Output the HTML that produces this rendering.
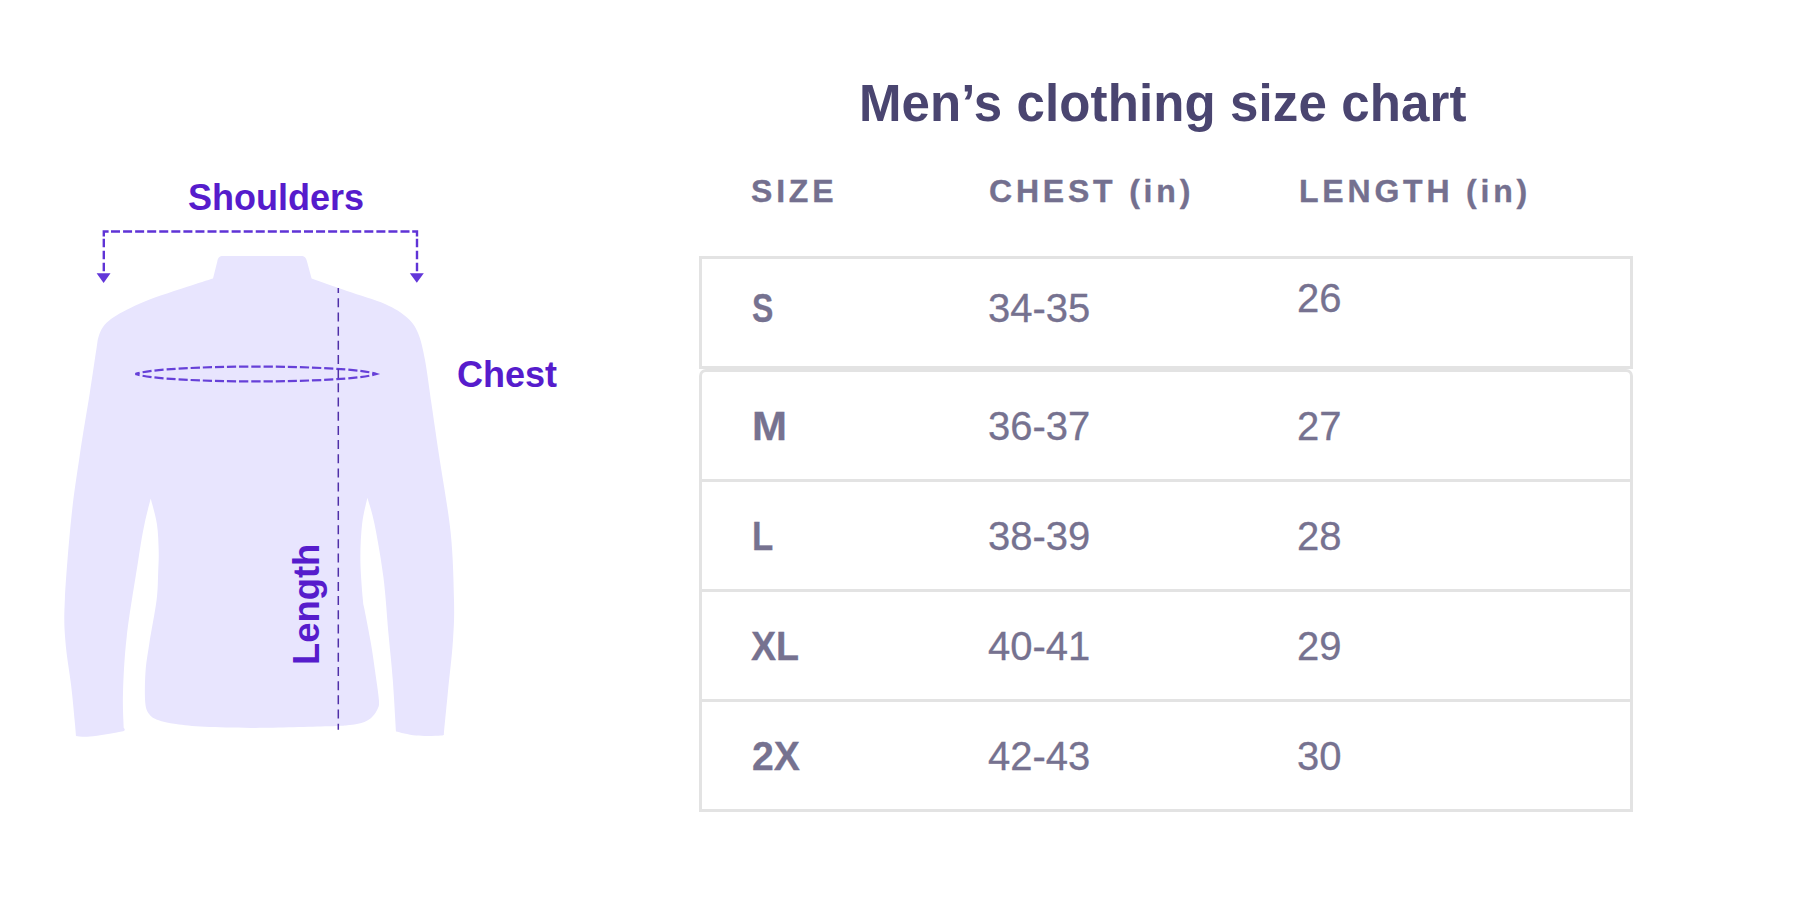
<!DOCTYPE html>
<html><head><meta charset="utf-8">
<style>
html,body{margin:0;padding:0;background:#fff;}
body{width:1800px;height:904px;position:relative;overflow:hidden;font-family:"Liberation Sans",sans-serif;}
.t{position:absolute;white-space:nowrap;line-height:1;}
.title{left:859px;top:78px;font-size:51px;font-weight:bold;color:#4a4570;letter-spacing:0.12px;}
.hd{font-size:32px;font-weight:bold;color:#74708f;letter-spacing:3.8px;-webkit-text-stroke:0.35px #74708f;top:175px;}
.cell{font-size:40px;color:#767290;-webkit-text-stroke:0.3px #767290;}
.sz{font-weight:bold;}
.lbl{font-size:36px;font-weight:bold;color:#561ccc;}
.ln{position:absolute;background:#e3e3e3;}
svg{position:absolute;left:0;top:0;}
</style></head><body>
<svg width="1800" height="904" viewBox="0 0 1800 904">
<path d="M213 278.5 L217.3 261.5 C218 257.5 219.5 256 223 256 L301 256 C304.5 256 306 257.5 307 261.5 L311.6 278.5 C317.5 280.6 334.8 286.8 347.0 291.0 C359.2 295.2 375.0 299.6 385.0 304.0 C395.0 308.4 401.5 312.7 407.0 317.5 C412.5 322.3 415.0 325.9 418.0 333.0 C421.0 340.1 422.8 348.2 425.0 360.0 C427.2 371.8 429.2 388.2 431.5 404.0 C433.8 419.8 435.8 433.5 439.0 455.0 C442.2 476.5 448.2 508.8 450.7 533.0 C453.2 557.2 453.6 582.2 454.0 600.0 C454.4 617.8 454.0 624.5 453.0 640.0 C452.0 655.5 449.3 677.5 447.8 693.0 C446.3 708.5 444.5 726.3 443.9 733.0 C443.4 733.4 445.6 735.2 441.0 735.6 C436.4 736.0 423.5 736.3 416.0 735.6 C408.5 734.9 399.3 732.3 396.0 731.6 C395.5 723.0 394.0 695.9 392.8 680.0 C391.6 664.1 390.3 653.2 388.7 636.0 C387.1 618.8 385.8 595.7 383.4 577.0 C381.0 558.3 377.2 537.2 374.5 524.0 C371.8 510.8 368.6 502.1 367.4 497.7 C366.5 502.1 363.3 513.6 362.1 524.0 C360.9 534.4 360.3 547.5 360.4 560.0 C360.5 572.5 362.1 590.7 362.8 599.0 C363.5 607.3 363.2 602.6 364.6 610.0 C366.0 617.4 369.1 632.9 370.9 643.2 C372.7 653.5 373.9 662.5 375.2 672.0 C376.5 681.5 378.5 693.9 378.9 700.0 C379.3 706.1 378.9 705.8 377.8 708.5 C376.7 711.2 374.7 714.2 372.5 716.5 C370.3 718.8 368.1 720.6 364.4 722.0 C360.6 723.4 356.1 724.3 350.0 725.0 C343.9 725.7 343.6 725.8 327.9 726.3 C312.2 726.8 276.1 727.8 255.6 727.9 C235.1 728.0 218.3 727.4 205.0 726.8 C191.7 726.1 183.8 725.1 176.0 724.0 C168.2 722.9 162.4 721.6 158.0 720.0 C153.6 718.4 151.6 717.3 149.5 714.5 C147.4 711.7 146.0 710.1 145.3 703.0 C144.6 695.9 144.8 682.0 145.5 672.0 C146.2 662.0 147.6 655.0 149.4 643.0 C151.2 631.0 155.1 611.8 156.6 600.0 C158.1 588.2 157.8 580.2 158.2 572.0 C158.5 563.8 158.9 559.0 158.7 551.0 C158.5 543.0 158.2 532.7 156.9 524.0 C155.6 515.3 151.7 502.8 150.7 498.6 C149.7 502.8 146.6 513.8 144.5 524.0 C142.4 534.2 141.2 541.3 138.3 560.0 C135.4 578.7 129.3 613.8 126.8 636.0 C124.2 658.2 123.5 677.7 123.0 693.0 C122.5 708.3 123.6 721.8 123.7 727.6 C123.4 728.3 127.4 730.1 121.7 731.6 C116.0 733.1 97.4 735.9 89.8 736.6 C82.2 737.3 78.3 736.1 76.0 736.0 C75.8 733.3 75.4 728.3 74.6 720.0 C73.8 711.7 72.8 699.3 71.2 686.0 C69.7 672.7 66.3 654.5 65.3 640.0 C64.2 625.5 63.9 619.7 64.9 599.0 C65.9 578.3 69.0 540.0 71.5 516.0 C74.0 492.0 76.8 475.5 79.8 455.0 C82.8 434.5 87.0 410.8 89.8 393.0 C92.6 375.2 95.0 357.8 96.5 348.5 C98.0 339.2 97.4 340.6 98.5 337.0 C99.6 333.4 100.9 330.0 103.0 327.0 C105.1 324.0 107.7 321.5 111.0 319.0 C114.3 316.5 118.2 314.4 123.0 311.8 C127.8 309.2 133.7 306.2 140.0 303.5 C146.3 300.8 152.6 298.4 160.6 295.6 C168.6 292.8 179.3 289.4 188.0 286.5 C196.7 283.6 208.8 279.8 213.0 278.5Z" fill="#e8e5fe"/>
<g fill="none" stroke="#5f33d6" stroke-width="2.4">
<path d="M103.8 236.6 L103.8 231.5 L108.6 231.5" stroke-linejoin="miter"/>
<path d="M412.2 231.5 L417 231.5 L417 236.6" stroke-linejoin="miter"/>
<path d="M111 231.5 L409.5 231.5" stroke-dasharray="9 3.0625"/>
<path d="M103.8 238.8 L103.8 271.3" stroke-dasharray="8.5 3.5"/>
<path d="M417 238.8 L417 271.3" stroke-dasharray="8.5 3.5"/>
</g>
<polygon points="96.6,273.3 110.5,273.3 103.6,283.1" fill="#6236d9"/>
<polygon points="409.8,273.3 423.8,273.3 416.8,282.7" fill="#6236d9"/>
<path d="M135.3 374 C165.3 364.13 346.6 364.13 376.6 374 C346.6 383.87 165.3 383.87 135.3 374" fill="none" stroke="#6640d8" stroke-width="2.2" stroke-dasharray="9.2 2.91" stroke-dashoffset="4.6" stroke-linejoin="miter"/>
<line x1="338.3" y1="288" x2="338.3" y2="729.7" stroke="#4f2fa8" stroke-width="1.5" stroke-dasharray="9 5.18" stroke-dashoffset="3.9"/>
</svg>
<div class="t lbl" style="left:188px;top:179.5px;">Shoulders</div>
<div class="t lbl" style="left:457px;top:357px;">Chest</div>
<div class="t lbl" style="left:289px;top:665px;font-size:36.4px;transform-origin:0 0;transform:rotate(-90deg);">Length</div>

<div class="t title">Men’s clothing size chart</div>
<div class="t hd" style="left:751px;">SIZE</div>
<div class="t hd" style="left:989px;">CHEST (in)</div>
<div class="t hd" style="left:1299px;">LENGTH (in)</div>

<div class="ln" style="left:699px;top:256px;width:934px;height:3px;"></div>
<div class="ln" style="left:699px;top:366px;width:934px;height:3px;"></div>
<div class="ln" style="left:699px;top:256px;width:3px;height:113px;"></div>
<div class="ln" style="left:1630px;top:256px;width:3px;height:113px;"></div>
<div style="position:absolute;left:699px;top:369px;width:928px;height:200px;border:3px solid #e3e3e3;border-bottom:none;border-radius:7px 7px 0 0;"></div>
<div class="ln" style="left:699px;top:479px;width:934px;height:3px;"></div>
<div class="ln" style="left:699px;top:589px;width:934px;height:3px;"></div>
<div class="ln" style="left:699px;top:699px;width:934px;height:3px;"></div>
<div class="ln" style="left:699px;top:809px;width:934px;height:3px;"></div>
<div class="ln" style="left:699px;top:560px;width:3px;height:252px;"></div>
<div class="ln" style="left:1630px;top:560px;width:3px;height:252px;"></div>

<div class="t cell sz" style="left:752px;top:288px;transform-origin:0 0;transform:scaleX(0.8);">S</div>
<div class="t cell" style="left:988px;top:288px;">34-35</div>
<div class="t cell" style="left:1297px;top:278px;">26</div>

<div class="t cell sz" style="left:752px;top:406px;transform-origin:0 0;transform:scaleX(1.05);">M</div>
<div class="t cell" style="left:988px;top:406px;">36-37</div>
<div class="t cell" style="left:1297px;top:406px;">27</div>

<div class="t cell sz" style="left:752px;top:516px;transform-origin:0 0;transform:scaleX(0.87);">L</div>
<div class="t cell" style="left:988px;top:516px;">38-39</div>
<div class="t cell" style="left:1297px;top:516px;">28</div>

<div class="t cell sz" style="left:751px;top:626px;transform-origin:0 0;transform:scaleX(0.94);">XL</div>
<div class="t cell" style="left:988px;top:626px;">40-41</div>
<div class="t cell" style="left:1297px;top:626px;">29</div>

<div class="t cell sz" style="left:752px;top:736px;transform-origin:0 0;transform:scaleX(0.98);">2X</div>
<div class="t cell" style="left:988px;top:736px;">42-43</div>
<div class="t cell" style="left:1297px;top:736px;">30</div>
</body></html>
